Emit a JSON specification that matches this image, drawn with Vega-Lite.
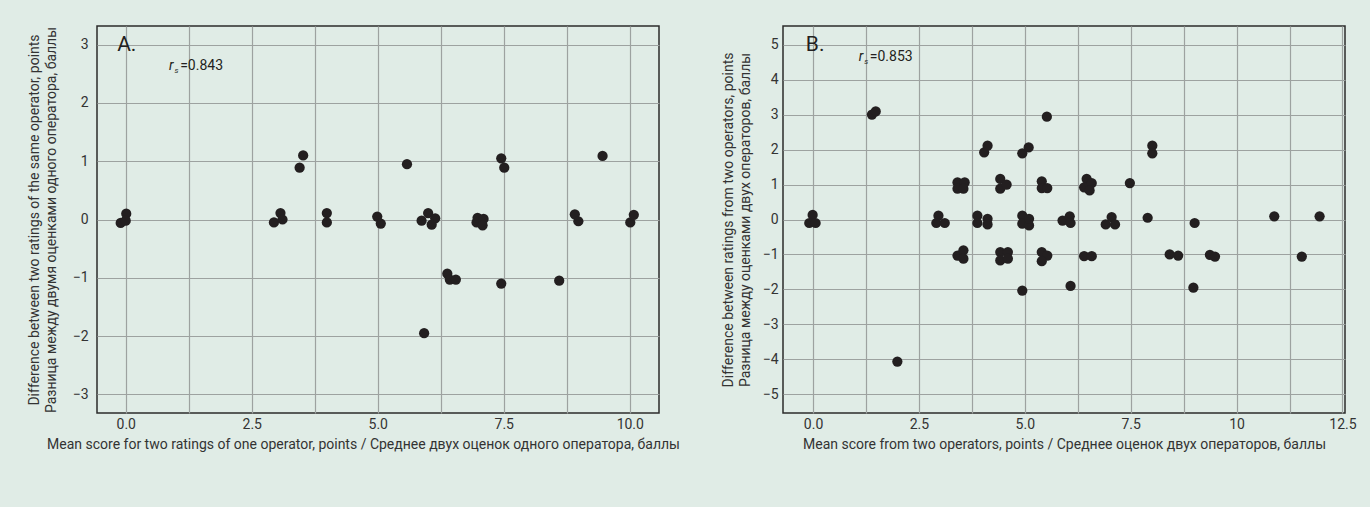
{
  "$schema": "https://vega.github.io/schema/vega-lite/v6.json",
  "background": "#e0ece6",
  "padding": {"left": 26, "top": 25, "right": 20, "bottom": 57},
  "spacing": 38,
  "config": {
    "font": "Roboto",
    "view": {"stroke": "#2b2b2b", "strokeWidth": 1.5, "fill": "#e0ece6"},
    "axis": {
      "grid": true,
      "gridColor": "#9da2a0",
      "gridWidth": 1.2,
      "gridOpacity": 1,
      "domain": false,
      "ticks": false,
      "labelFont": "Roboto",
      "labelFontSize": 14,
      "labelColor": "#333333",
      "titleFont": "Roboto",
      "titleFontWeight": "normal",
      "titleFontSize": 14,
      "titleColor": "#333333",
      "titleLineHeight": 17,
      "tickCount": 30
    }
  },
  "datasets": {
    "A": [
      {"mean": -0.10, "diff": -0.06}, {"mean": 0.01, "diff": 0.10}, {"mean": 0.0, "diff": -0.02},
      {"mean": 2.94, "diff": -0.05}, {"mean": 3.07, "diff": 0.11}, {"mean": 3.11, "diff": 0.0},
      {"mean": 3.45, "diff": 0.89}, {"mean": 3.52, "diff": 1.10},
      {"mean": 3.99, "diff": 0.11}, {"mean": 3.99, "diff": -0.05},
      {"mean": 4.99, "diff": 0.05}, {"mean": 5.06, "diff": -0.07},
      {"mean": 5.58, "diff": 0.95},
      {"mean": 5.87, "diff": -0.02}, {"mean": 6.0, "diff": 0.11}, {"mean": 6.14, "diff": 0.02}, {"mean": 6.07, "diff": -0.09},
      {"mean": 6.96, "diff": -0.05}, {"mean": 6.98, "diff": 0.03}, {"mean": 7.10, "diff": 0.01}, {"mean": 7.08, "diff": -0.10},
      {"mean": 7.45, "diff": 1.05}, {"mean": 7.51, "diff": 0.89},
      {"mean": 6.38, "diff": -0.93}, {"mean": 6.43, "diff": -1.03}, {"mean": 6.55, "diff": -1.03},
      {"mean": 7.45, "diff": -1.10}, {"mean": 8.60, "diff": -1.05},
      {"mean": 5.92, "diff": -1.95},
      {"mean": 8.91, "diff": 0.09}, {"mean": 8.98, "diff": -0.03},
      {"mean": 9.46, "diff": 1.09},
      {"mean": 10.01, "diff": -0.05}, {"mean": 10.08, "diff": 0.08}
    ],
    "B": [
      {"mean": 1.39, "diff": 3.0}, {"mean": 1.48, "diff": 3.09},
      {"mean": -0.01, "diff": 0.13}, {"mean": -0.09, "diff": -0.10}, {"mean": 0.06, "diff": -0.10},
      {"mean": 1.99, "diff": -4.06},
      {"mean": 2.96, "diff": 0.11}, {"mean": 2.91, "diff": -0.10}, {"mean": 3.11, "diff": -0.10},
      {"mean": 3.41, "diff": 1.06}, {"mean": 3.58, "diff": 1.06}, {"mean": 3.41, "diff": 0.88}, {"mean": 3.55, "diff": 0.88},
      {"mean": 3.41, "diff": -1.03}, {"mean": 3.55, "diff": -0.88}, {"mean": 3.55, "diff": -1.12},
      {"mean": 4.04, "diff": 1.92}, {"mean": 4.12, "diff": 2.11},
      {"mean": 3.88, "diff": 0.11}, {"mean": 3.88, "diff": -0.10}, {"mean": 4.12, "diff": 0.02}, {"mean": 4.12, "diff": -0.14},
      {"mean": 5.52, "diff": 2.94}, {"mean": 4.94, "diff": 1.89}, {"mean": 5.09, "diff": 2.06},
      {"mean": 4.42, "diff": 1.16}, {"mean": 4.42, "diff": 0.88}, {"mean": 4.57, "diff": 1.0},
      {"mean": 5.40, "diff": 1.09}, {"mean": 5.40, "diff": 0.90}, {"mean": 5.53, "diff": 0.90},
      {"mean": 6.46, "diff": 1.16}, {"mean": 6.40, "diff": 0.92}, {"mean": 6.58, "diff": 1.04}, {"mean": 6.53, "diff": 0.83},
      {"mean": 7.48, "diff": 1.04}, {"mean": 8.01, "diff": 2.11}, {"mean": 8.01, "diff": 1.89},
      {"mean": 4.94, "diff": 0.11}, {"mean": 4.94, "diff": -0.12}, {"mean": 5.10, "diff": -0.17}, {"mean": 5.10, "diff": 0.02},
      {"mean": 5.89, "diff": -0.03}, {"mean": 6.06, "diff": 0.09}, {"mean": 6.08, "diff": -0.10},
      {"mean": 7.05, "diff": 0.07}, {"mean": 6.91, "diff": -0.14}, {"mean": 7.13, "diff": -0.14}, {"mean": 7.90, "diff": 0.05},
      {"mean": 4.42, "diff": -0.93}, {"mean": 4.60, "diff": -0.93}, {"mean": 4.42, "diff": -1.17}, {"mean": 4.60, "diff": -1.12},
      {"mean": 5.40, "diff": -0.93}, {"mean": 5.53, "diff": -1.03}, {"mean": 5.40, "diff": -1.19},
      {"mean": 6.40, "diff": -1.05}, {"mean": 6.58, "diff": -1.05},
      {"mean": 8.42, "diff": -1.0}, {"mean": 8.62, "diff": -1.03},
      {"mean": 4.94, "diff": -2.03}, {"mean": 6.08, "diff": -1.90},
      {"mean": 9.01, "diff": -0.10}, {"mean": 10.89, "diff": 0.09}, {"mean": 11.96, "diff": 0.09},
      {"mean": 9.37, "diff": -1.01}, {"mean": 9.49, "diff": -1.06}, {"mean": 11.54, "diff": -1.06},
      {"mean": 8.98, "diff": -1.95}
    ]
  },
  "hconcat": [
    {
      "width": 562,
      "height": 387,
      "layer": [
        {
          "data": {"name": "A"},
          "mark": {"type": "circle", "size": 105, "color": "#231f20", "opacity": 1},
          "encoding": {
            "x": {
              "field": "mean", "type": "quantitative",
              "scale": {"domain": [-0.57, 10.58], "nice": false, "zero": false},
              "axis": {
                "values": [0, 1.25, 2.5, 3.75, 5, 6.25, 7.5, 8.75, 10],
                "labelExpr": "datum.value % 2.5 == 0 ? format(datum.value, '.1f') : ''",
                "labelPadding": 4,
                "titlePadding": 6,
                "titleX": 266,
                "title": "Mean score for two ratings of one operator, points / Среднее  двух оценок одного оператора, баллы"
              }
            },
            "y": {
              "field": "diff", "type": "quantitative",
              "scale": {"domain": [-3.32, 3.32], "nice": false, "zero": false},
              "axis": {
                "values": [-3, -2, -1, 0, 1, 2, 3],
                "format": "d",
                "labelPadding": 9,
                "titlePadding": 14,
                "title": ["Difference between two ratings of the same operator, points", "Разница между двумя оценками одного оператора, баллы"]
              }
            }
          }
        },
        {
          "data": {"values": [{}]},
          "mark": {"type": "text", "text": "A.", "align": "left", "baseline": "middle", "fontSize": 21, "color": "#231f20"},
          "encoding": {"x": {"datum": -0.17}, "y": {"datum": 3.0}}
        },
        {
          "data": {"values": [{}]},
          "mark": {"type": "text", "text": "r", "align": "left", "baseline": "middle", "fontSize": 14, "fontStyle": "italic", "color": "#231f20"},
          "encoding": {"x": {"datum": 0.86}, "y": {"datum": 2.64}}
        },
        {
          "data": {"values": [{}]},
          "mark": {"type": "text", "text": "s", "align": "left", "baseline": "middle", "fontSize": 8, "fontStyle": "italic", "color": "#231f20"},
          "encoding": {"x": {"datum": 0.97}, "y": {"datum": 2.55}}
        },
        {
          "data": {"values": [{}]},
          "mark": {"type": "text", "text": "=0.843", "align": "left", "baseline": "middle", "fontSize": 14, "color": "#231f20"},
          "encoding": {"x": {"datum": 1.08}, "y": {"datum": 2.64}}
        }
      ]
    },
    {
      "width": 562,
      "height": 387,
      "layer": [
        {
          "data": {"name": "B"},
          "mark": {"type": "circle", "size": 105, "color": "#231f20", "opacity": 1},
          "encoding": {
            "x": {
              "field": "mean", "type": "quantitative",
              "scale": {"domain": [-0.71, 12.56], "nice": false, "zero": false},
              "axis": {
                "values": [0, 1.25, 2.5, 3.75, 5, 6.25, 7.5, 8.75, 10, 11.25, 12.5],
                "labelExpr": "datum.value % 2.5 == 0 ? (datum.value == 10 ? '10' : format(datum.value, '.1f')) : ''",
                "labelPadding": 4,
                "titlePadding": 6,
                "title": "Mean score from two operators, points / Среднее оценок двух операторов, баллы"
              }
            },
            "y": {
              "field": "diff", "type": "quantitative",
              "scale": {"domain": [-5.53, 5.53], "nice": false, "zero": false},
              "axis": {
                "values": [-5, -4, -3, -2, -1, 0, 1, 2, 3, 4, 5],
                "format": "d",
                "labelPadding": 5,
                "titlePadding": 10,
                "title": ["Difference between ratings from two operators, points", "Разница между оценками двух операторов, баллы"]
              }
            }
          }
        },
        {
          "data": {"values": [{}]},
          "mark": {"type": "text", "text": "B.", "align": "left", "baseline": "middle", "fontSize": 21, "color": "#231f20"},
          "encoding": {"x": {"datum": -0.17}, "y": {"datum": 4.98}}
        },
        {
          "data": {"values": [{}]},
          "mark": {"type": "text", "text": "r", "align": "left", "baseline": "middle", "fontSize": 14, "fontStyle": "italic", "color": "#231f20"},
          "encoding": {"x": {"datum": 1.08}, "y": {"datum": 4.63}}
        },
        {
          "data": {"values": [{}]},
          "mark": {"type": "text", "text": "s", "align": "left", "baseline": "middle", "fontSize": 8, "fontStyle": "italic", "color": "#231f20"},
          "encoding": {"x": {"datum": 1.21}, "y": {"datum": 4.49}}
        },
        {
          "data": {"values": [{}]},
          "mark": {"type": "text", "text": "=0.853", "align": "left", "baseline": "middle", "fontSize": 14, "color": "#231f20"},
          "encoding": {"x": {"datum": 1.34}, "y": {"datum": 4.63}}
        }
      ]
    }
  ]
}
